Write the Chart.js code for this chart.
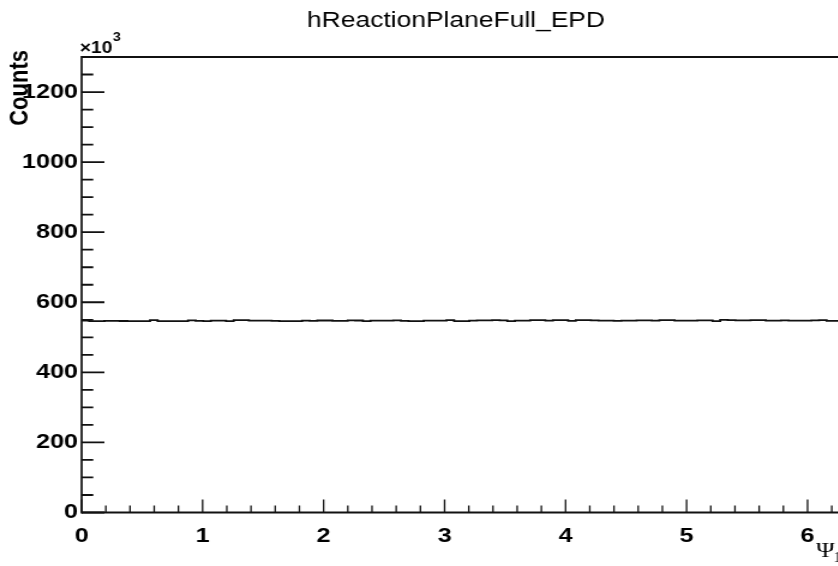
<!DOCTYPE html>
<html>
<head>
<meta charset="utf-8">
<script src="https://cdn.jsdelivr.net/npm/chart.js@4.4.1/dist/chart.umd.min.js"></script>
<style>
  html, body { margin: 0; padding: 0; background: #fff; overflow: hidden; }
  /* the reference picture is stretched sideways, so the canvas is too */
  #wrap { position: absolute; left: 0; top: 0; width: 704px; height: 566px;
          transform: scaleX(1.2); transform-origin: 0 0; }
</style>
</head>
<body>
<div id="wrap"><canvas id="hist" width="704" height="566"></canvas></div>
<script>
// histogram: 100 bins of the event plane angle, counts in units of 10^3
var histTitle = 'hReactionPlaneFull_EPD';
var xMax = 2 * Math.PI;
var yMax = 1300;
var binCounts = [
  547.5, 547.5, 546.0, 546.0, 547.0, 547.0, 546.5, 546.0, 546.0, 546.0,
  549.0, 546.0, 546.0, 546.0, 546.0, 548.5, 547.0, 546.0, 547.5, 547.5,
  546.0, 549.0, 549.0, 547.5, 547.5, 547.5, 547.0, 546.0, 546.0, 546.0,
  547.5, 547.0, 548.0, 548.0, 546.8, 547.0, 548.2, 548.0, 546.0, 547.5,
  547.5, 547.5, 548.2, 547.0, 546.0, 546.0, 547.5, 547.5, 547.5, 549.0,
  546.0, 546.0, 547.5, 548.2, 548.2, 549.0, 548.5, 546.0, 547.5, 547.5,
  549.0, 549.0, 547.5, 549.0, 549.0, 546.8, 549.0, 549.0, 548.5, 547.5,
  547.5, 546.8, 547.5, 547.5, 548.5, 548.5, 547.5, 549.0, 549.0, 547.5,
  547.5, 547.5, 548.2, 548.2, 546.0, 549.5, 549.0, 548.2, 548.2, 549.0,
  549.0, 547.5, 547.5, 548.2, 547.5, 547.5, 547.5, 548.5, 549.0, 546.8
];
var xTickValues = [0, 1, 2, 3, 4, 5, 6];
var yTickValues = [0, 200, 400, 600, 800, 1000, 1200];

var labelFont = { family: "'Liberation Sans', Arial, sans-serif", size: 21, weight: 'bold' };

// step outline: one point per lower bin edge, plus the upper edge of the last bin
var binWidth = xMax / binCounts.length;
var histPoints = binCounts.map(function (c, i) { return { x: i * binWidth, y: c }; });
histPoints.push({ x: xMax, y: binCounts[binCounts.length - 1] });

// ROOT style frame with the ticks pointing inwards
var rootFrame = {
  id: 'rootFrame',
  afterDraw: function (chart) {
    var ctx = chart.ctx, a = chart.chartArea;
    var xs = chart.scales.x, ys = chart.scales.y;
    ctx.save();
    ctx.strokeStyle = '#111';

    ctx.lineWidth = 1.3;
    ctx.beginPath();
    for (var k = 0; k * 0.2 <= xMax; k++) {
      var px = xs.getPixelForValue(k * 0.2);
      var len = (k % 5 === 0) ? 13 : 7;
      ctx.moveTo(px, a.bottom);
      ctx.lineTo(px, a.bottom - len);
    }
    ctx.stroke();

    ctx.lineWidth = 1.8;
    ctx.beginPath();
    for (var j = 0; j * 50 <= yMax; j++) {
      var py = ys.getPixelForValue(j * 50);
      var ln = (j % 4 === 0) ? 19 : 9.7;
      ctx.moveTo(a.left, py);
      ctx.lineTo(a.left + ln, py);
    }
    ctx.stroke();

    ctx.lineWidth = 2;
    ctx.beginPath();
    ctx.moveTo(a.left, a.top); ctx.lineTo(a.right, a.top);
    ctx.moveTo(a.left, a.bottom); ctx.lineTo(a.right, a.bottom);
    ctx.moveTo(a.right, a.top); ctx.lineTo(a.right, a.bottom);
    ctx.stroke();
    ctx.lineWidth = 1.7;
    ctx.beginPath();
    ctx.moveTo(a.left, a.top - 1); ctx.lineTo(a.left, a.bottom + 1);
    ctx.stroke();

    // texts
    ctx.fillStyle = '#000';
    ctx.textBaseline = 'alphabetic';
    ctx.font = "22px 'Liberation Sans', Arial, sans-serif";
    ctx.textAlign = 'center';
    ctx.fillText(histTitle, 380, 27);

    ctx.textAlign = 'left';
    ctx.font = "bold 16px 'Liberation Sans', Arial, sans-serif";
    ctx.fillText('\u00d710', 66.5, 53);
    ctx.font = "bold 12px 'Liberation Sans', Arial, sans-serif";
    ctx.fillText('3', 94, 41);

    ctx.font = "21px 'Liberation Serif', 'Times New Roman', serif";
    ctx.fillText('\u03a8', 680, 557);
    ctx.font = "14px 'Liberation Serif', 'Times New Roman', serif";
    ctx.fillText('1', 694.5, 562);

    ctx.save();
    ctx.translate(23, 50);
    ctx.rotate(-Math.PI / 2);
    ctx.textAlign = 'right';
    ctx.font = "bold 22px 'Liberation Sans', Arial, sans-serif";
    ctx.fillText('Counts', 0, 0);
    ctx.restore();

    ctx.restore();
  }
};

var ctx = document.getElementById('hist').getContext('2d');
var chart = new Chart(ctx, {
  type: 'line',
  data: {
    datasets: [{
      data: histPoints,
      stepped: 'after',
      borderColor: '#111',
      borderWidth: 1.8,
      pointRadius: 0,
      fill: false
    }]
  },
  options: {
    responsive: false,
    animation: false,
    events: [],
    layout: { padding: { top: 57, right: 2.5, left: 0, bottom: 0 } },
    plugins: { legend: { display: false }, tooltip: { enabled: false }, title: { display: false } },
    scales: {
      x: {
        type: 'linear', min: 0, max: xMax,
        grid: { display: false, drawTicks: false }, border: { display: false },
        afterBuildTicks: function (s) { s.ticks = xTickValues.map(function (v) { return { value: v }; }); },
        afterFit: function (s) { s.height = 53.5; },
        ticks: { color: '#000', font: labelFont, padding: 11, maxRotation: 0, autoSkip: false,
                 callback: function (v) { return String(v); } }
      },
      y: {
        type: 'linear', min: 0, max: yMax,
        grid: { display: false, drawTicks: false }, border: { display: false },
        afterBuildTicks: function (s) { s.ticks = yTickValues.map(function (v) { return { value: v }; }); },
        afterFit: function (s) { s.width = 68; },
        ticks: { color: '#000', font: labelFont, padding: 3, autoSkip: false,
                 callback: function (v) { return String(v); } }
      }
    }
  },
  plugins: [rootFrame]
});
</script>
</body>
</html>
